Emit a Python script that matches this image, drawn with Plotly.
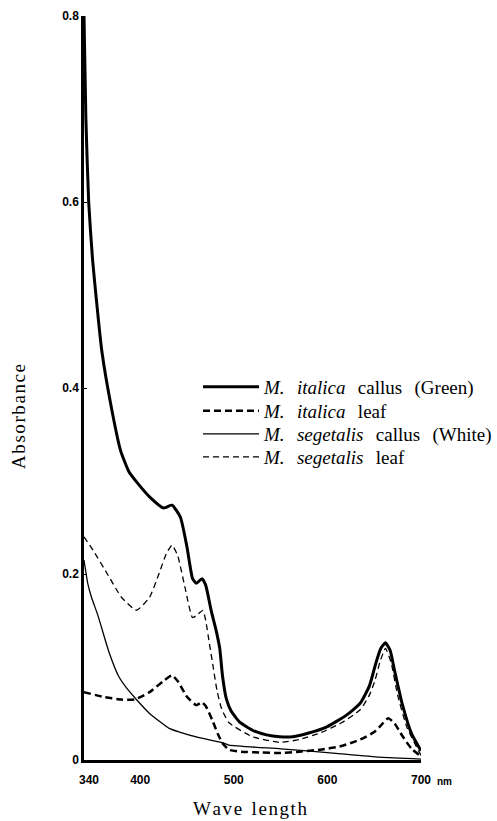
import plotly.graph_objects as go

# M. italica callus (Green) - thick solid
ic_x = [340, 342, 345, 349, 359, 370, 379, 388, 397, 410, 425, 434, 443, 450, 456, 460, 466, 470, 476, 481, 485, 488, 492, 497, 506, 520, 535, 549, 563, 580, 600, 620, 635, 645, 652, 657, 662, 667, 672, 680, 690, 700]
ic_y = [0.80, 0.69, 0.60, 0.54, 0.44, 0.375, 0.333, 0.31, 0.298, 0.283, 0.271, 0.274, 0.261, 0.229, 0.195, 0.19, 0.195, 0.188, 0.16, 0.14, 0.12, 0.09, 0.066, 0.053, 0.041, 0.032, 0.027, 0.025, 0.025, 0.029, 0.036, 0.048, 0.061, 0.08, 0.105, 0.12, 0.126, 0.118, 0.095, 0.06, 0.028, 0.01]

# M. italica leaf - thick dashed
il_x = [340, 360, 380, 394, 410, 425, 434, 440, 450, 460, 466, 470, 477, 483, 488, 495, 506, 530, 549, 570, 592, 615, 635, 650, 658, 665, 672, 680, 690, 700]
il_y = [0.073, 0.068, 0.065, 0.065, 0.073, 0.085, 0.091, 0.085, 0.068, 0.059, 0.062, 0.058, 0.043, 0.028, 0.018, 0.011, 0.009, 0.008, 0.0075, 0.009, 0.011, 0.015, 0.022, 0.03, 0.038, 0.045, 0.039, 0.026, 0.012, 0.004]

# M. segetalis callus (White) - thin solid
sc_x = [340, 344, 348, 355, 367, 377, 385, 396, 410, 431, 442, 463, 490, 495, 550, 600, 656, 700]
sc_y = [0.215, 0.19, 0.175, 0.155, 0.115, 0.09, 0.078, 0.065, 0.05, 0.034, 0.03, 0.024, 0.018, 0.016, 0.012, 0.008, 0.003, 0.001]

# M. segetalis leaf - thin dashed
sl_x = [340, 350, 365, 380, 396, 410, 420, 428, 434, 440, 448, 456, 462, 467, 470, 474, 478, 482, 487, 495, 520, 549, 570, 592, 615, 635, 645, 651, 656, 662, 668, 675, 685, 700]
sl_y = [0.24, 0.225, 0.2, 0.175, 0.161, 0.175, 0.2, 0.222, 0.231, 0.22, 0.185, 0.153, 0.157, 0.161, 0.15, 0.125, 0.1, 0.075, 0.055, 0.04, 0.025, 0.019, 0.022, 0.029, 0.04, 0.054, 0.07, 0.086, 0.105, 0.12, 0.105, 0.07, 0.035, 0.005]

G = "\u2009\u2009 "  # wide word gap as in the original typesetting
names = ["<i>M.</i>" + G + "<i>italica</i>" + G + "callus" + G + "(Green)",
         "<i>M.</i>" + G + "<i>italica</i>" + G + "leaf",
         "<i>M.</i>" + G + "<i>segetalis</i>" + G + "callus" + G + "(White)",
         "<i>M.</i>" + G + "<i>segetalis</i>" + G + "leaf"]

x_ticks = [340, 400, 500, 600, 700]
x_ticktext = ["\u00a0\u00a0\u00a0340", "400", "500", "600", "700"]
y_ticks = [0, 0.2, 0.4, 0.6, 0.8]
y_ticktext = ["0", "0.2", "0.4", "0.6", "0.8"]

HS = "\u200a"
y_title = HS.join("Absorbance")
x_title = HS.join("Wave") + "\u00a0 " + HS.join("length")

fig = go.Figure()
fig.add_trace(go.Scatter(x=ic_x, y=ic_y, mode="lines", name=names[0], legend="legend",
                         line=dict(color="black", width=3, shape="spline", smoothing=0.5)))
fig.add_trace(go.Scatter(x=il_x, y=il_y, mode="lines", name=names[1], legend="legend2",
                         line=dict(color="black", width=2.5, dash="7px,4px", shape="spline", smoothing=0.5)))
fig.add_trace(go.Scatter(x=sc_x, y=sc_y, mode="lines", name=names[2], legend="legend3",
                         line=dict(color="black", width=1.3, shape="spline", smoothing=0.5)))
fig.add_trace(go.Scatter(x=sl_x, y=sl_y, mode="lines", name=names[3], legend="legend4",
                         line=dict(color="black", width=1.3, dash="6px,4px", shape="spline", smoothing=0.5)))

# plot area in page pixels: x 84..421, y 16..760 (body margin removed below)
W, H = 497, 821
PL, PR, PT, PB = 84, 421, 16, 760
def px_to_paper_y(py):
    return (PB - py) / (PB - PT)
def px_to_paper_x(px):
    return (px - PL) / (PR - PL)

legend_font = dict(family="Liberation Serif", size=19, color="black")
row_y = [387, 411, 434, 457]
legend_common = dict(x=px_to_paper_x(198), xanchor="left", yanchor="middle", font=legend_font,
                     bgcolor="rgba(0,0,0,0)", itemwidth=56)

fig.update_layout(
    width=W, height=H,
    margin=dict(l=PL, r=W - PR, t=PT, b=H - PB, autoexpand=False),
    paper_bgcolor="white", plot_bgcolor="white",
    showlegend=True,
    legend=dict(y=px_to_paper_y(row_y[0]), **legend_common),
    legend2=dict(y=px_to_paper_y(row_y[1]), **legend_common),
    legend3=dict(y=px_to_paper_y(row_y[2]), **legend_common),
    legend4=dict(y=px_to_paper_y(row_y[3]), **legend_common),
    xaxis=dict(range=[340, 700], tickmode="array", tickvals=x_ticks, ticktext=x_ticktext,
               showgrid=False, zeroline=False, showline=True, linecolor="black", linewidth=2.5,
               ticks="", ticklabelstandoff=7,
               tickfont=dict(family="Liberation Sans", size=12, color="black", weight="bold")),
    yaxis=dict(range=[0, 0.8], tickmode="array", tickvals=y_ticks, ticktext=y_ticktext,
               showgrid=False, zeroline=False, showline=True, linecolor="black", linewidth=2.5,
               ticks="inside", ticklen=3, tickcolor="black",
               tickfont=dict(family="Liberation Sans", size=12, color="black", weight="bold")),
    annotations=[
        dict(text=y_title, xref="paper", yref="paper", x=px_to_paper_x(18), y=px_to_paper_y(417),
             textangle=-90, showarrow=False, xanchor="center", yanchor="middle",
             font=dict(family="Liberation Serif", size=19, color="black")),
        dict(text=x_title, xref="paper", yref="paper", x=px_to_paper_x(250), y=px_to_paper_y(808),
             showarrow=False, xanchor="center", yanchor="middle",
             font=dict(family="Liberation Serif", size=19, color="black")),
        dict(text="<b>nm</b>", xref="x", yref="paper", x=700, y=px_to_paper_y(781), xshift=14,
             showarrow=False, xanchor="left", yanchor="middle",
             font=dict(family="Liberation Sans", size=10, color="black")),
    ],
)

fig.write_html("out.html", config={"displayModeBar": False},
               post_script="document.body.style.margin='0';document.body.style.overflow='hidden';")
